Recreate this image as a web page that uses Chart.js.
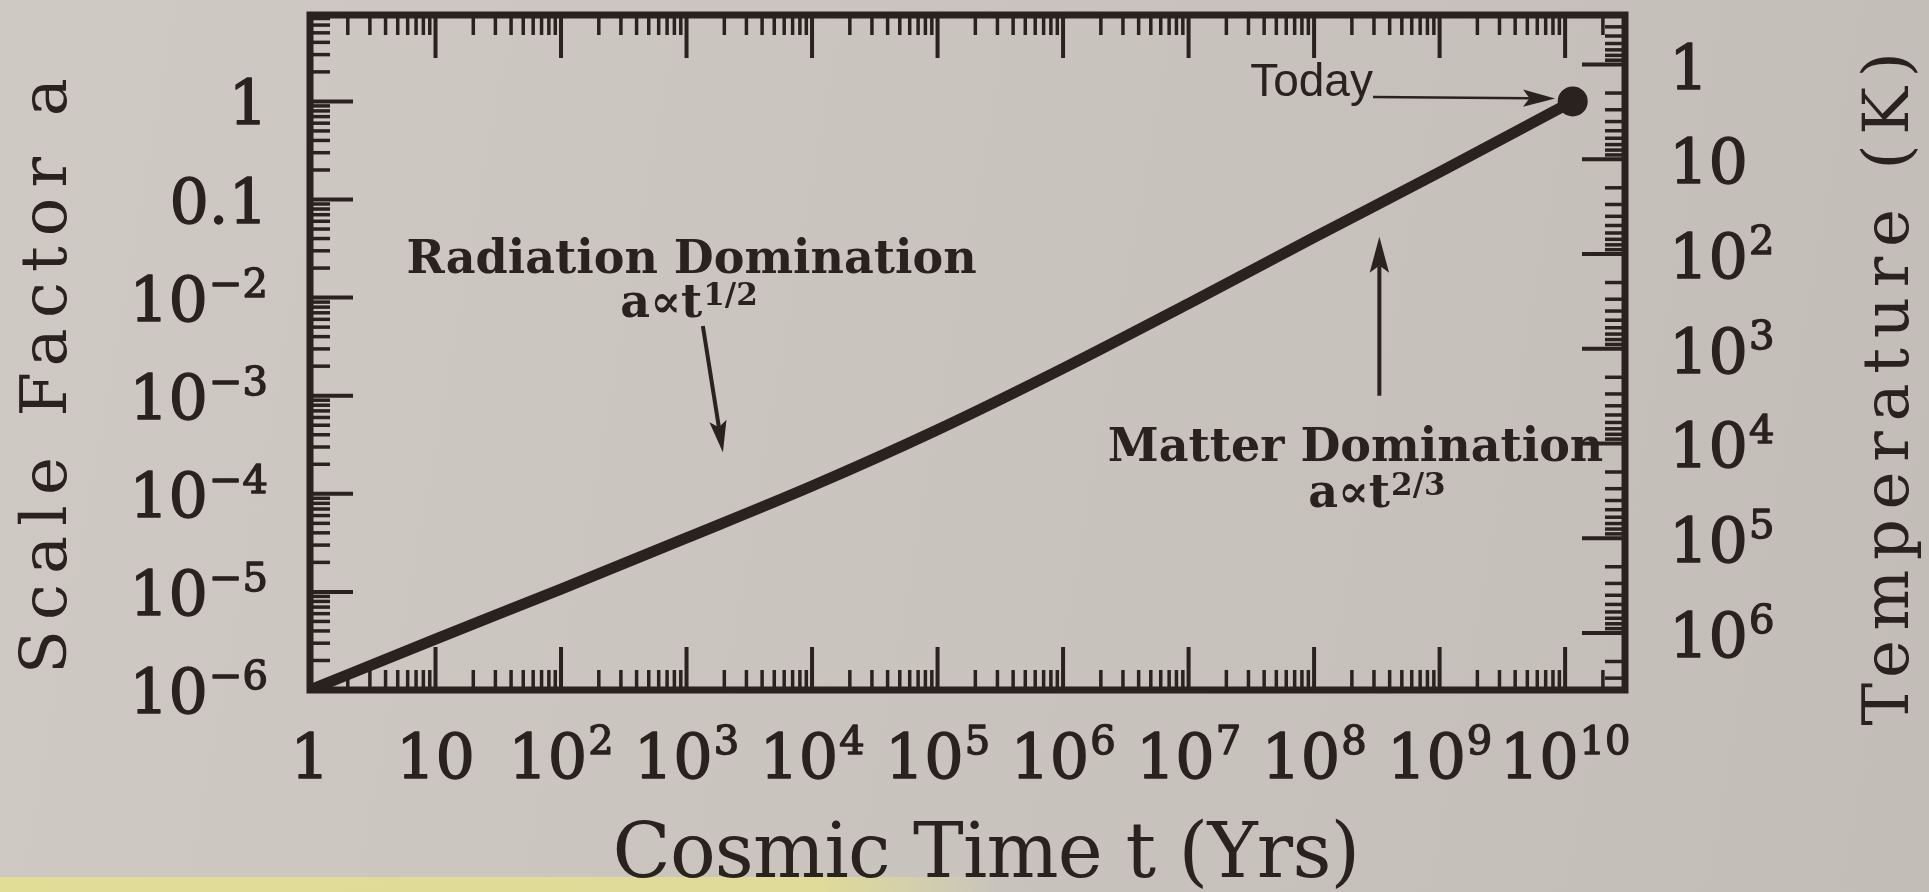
<!DOCTYPE html>
<html>
<head>
<meta charset="utf-8">
<title>Scale factor and cosmic time</title>
<script src="https://cdn.jsdelivr.net/npm/chart.js@4.4.1/dist/chart.umd.min.js"></script>
<style>
  html, body { margin: 0; padding: 0; }
  body {
    width: 1929px;
    height: 892px;
    overflow: hidden;
    background:
      linear-gradient(to right, rgba(226, 221, 148, 0.95) 0, rgba(226, 221, 148, 0.9) 820px, rgba(226, 221, 148, 0) 1000px) 0 877px / 100% 15px no-repeat,
      linear-gradient(100deg, #cecac3 0%, #c8c4bd 55%, #c2beb7 100%);
  }
  canvas { display: block; }
</style>
</head>
<body>
<canvas id="scaleFactorChart" width="1929" height="892"></canvas>
<script>
// cosmic time (years) and the scale factor a along the curve
const cosmicTime = [1, 10, 1e2, 1e3, 1e4, 1e5, 1e6, 1e7, 1e8, 1e9, 1e10, 1.15e10];
const scaleFactor = [1e-6, 3.3e-6, 1.07e-5, 3.55e-5, 1.2e-4, 4.5e-4, 1.9e-3, 8.7e-3, 4.1e-2, 0.19, 0.91, 1];

// present day
const todayTime = [1.15e10];
const todayScale = [1];

// axis ranges
const timeRange = [1, 3e10];
const scaleRange = [1e-6, 7.6];
const tempRange = [0.32, 4e6];

// labelled ticks ("^" starts the exponent)
const timeTicks = [1, 10, 1e2, 1e3, 1e4, 1e5, 1e6, 1e7, 1e8, 1e9, 1e10];
const timeTickLabels = ['1', '10', '10^2', '10^3', '10^4', '10^5', '10^6', '10^7', '10^8', '10^9', '10^10'];
const scaleTicks = [1, 0.1, 1e-2, 1e-3, 1e-4, 1e-5, 1e-6];
const scaleTickLabels = ['1', '0.1', '10^\u22122', '10^\u22123', '10^\u22124', '10^\u22125', '10^\u22126'];
const tempTicks = [1, 10, 1e2, 1e3, 1e4, 1e5, 1e6];
const tempTickLabels = ['1', '10', '10^2', '10^3', '10^4', '10^5', '10^6'];

const ink = '#29221f';
const serif = '"DejaVu Serif", serif';
const tickFont = '62px ' + serif;
const supFont = '40px ' + serif;
const noteFont = 'bold 46px ' + serif;
const noteSupFont = 'bold 31px ' + serif;

// text notes, anchored in data units (t, a) at the baseline centre
const notes = [
  { text: 'Radiation Domination', t: 10 ** 3.04, a: 10 ** -1.75 },
  { text: 'a\u221Dt^1/2', t: 10 ** 3.02, a: 10 ** -2.2 },
  { text: 'Matter Domination', t: 10 ** 8.33, a: 10 ** -3.67 },
  { text: 'a\u221Dt^2/3', t: 10 ** 8.5, a: 10 ** -4.13 }
];
const arrows = [
  { from: [10 ** 3.13, 10 ** -2.29], to: [10 ** 3.29, 10 ** -3.58], width: 4, head: 32 },
  { from: [10 ** 8.52, 10 ** -3.0], to: [10 ** 8.52, 10 ** -1.38], width: 4, head: 36 },
  { from: [10 ** 8.47, 10 ** 0.045], to: [10 ** 9.92, 10 ** 0.03], width: 2.5, head: 32 }
];
const todayNote = { text: 'Today', t: 10 ** 7.98, a: 10 ** 0.06 };

function logTicks(min, max) {
  const out = [];
  for (let e = Math.floor(Math.log10(min)); e <= Math.ceil(Math.log10(max)); e++) {
    for (let m = 1; m <= 9; m++) {
      const v = m * Math.pow(10, e);
      if (v >= min * 0.999 && v <= max * 1.001) out.push({ v, major: m === 1 });
    }
  }
  return out;
}

// text with an optional exponent after "^"; heavy adds a thin outline
function drawPower(ctx, label, x, y, align, baseFont, expFont, raise, heavy) {
  const parts = label.split('^');
  ctx.font = baseFont;
  const wb = ctx.measureText(parts[0]).width;
  let we = 0;
  if (parts[1]) {
    ctx.font = expFont;
    we = ctx.measureText(parts[1]).width + 1;
  }
  const w = wb + we;
  const x0 = align === 'center' ? x - w / 2 : align === 'right' ? x - w : x;
  ctx.textAlign = 'left';
  ctx.textBaseline = 'alphabetic';
  ctx.lineWidth = heavy || 0;
  const put = (s, px, py) => {
    ctx.fillText(s, px, py);
    if (heavy) ctx.strokeText(s, px, py);
  };
  ctx.font = baseFont;
  put(parts[0], x0, y);
  if (parts[1]) {
    ctx.font = expFont;
    put(parts[1], x0 + wb + 1, y - raise);
  }
}

// spread the letters so the text spans the given width
function spreadText(ctx, text, font, width) {
  ctx.font = font;
  ctx.letterSpacing = '0px';
  const w = ctx.measureText(text).width;
  ctx.letterSpacing = ((width - w) / text.length) + 'px';
}

function arrow(ctx, x1, y1, x2, y2, width, head) {
  const c = Math.cos(Math.atan2(y2 - y1, x2 - x1));
  const s = Math.sin(Math.atan2(y2 - y1, x2 - x1));
  ctx.lineWidth = width;
  ctx.beginPath();
  ctx.moveTo(x1, y1);
  ctx.lineTo(x2 - c * head * 0.8, y2 - s * head * 0.8);
  ctx.stroke();
  ctx.beginPath();
  ctx.moveTo(x2, y2);
  ctx.lineTo(x2 - head * c + head * 0.27 * s, y2 - head * s - head * 0.27 * c);
  ctx.lineTo(x2 - head * 0.8 * c, y2 - head * 0.8 * s);
  ctx.lineTo(x2 - head * c - head * 0.27 * s, y2 - head * s + head * 0.27 * c);
  ctx.closePath();
  ctx.fill();
}

// frame plus inward log ticks on all four sides, then all the text
const frameTicks = {
  id: 'frameTicks',
  beforeDatasetsDraw(chart) {
    const { ctx, chartArea: a, scales } = chart;
    const major = 43, minor = 20;
    ctx.save();
    ctx.strokeStyle = ink;
    ctx.lineCap = 'butt';
    logTicks(scales.x.min, scales.x.max).forEach(tk => {
      const px = scales.x.getPixelForValue(tk.v);
      const len = tk.major ? major : minor;
      ctx.lineWidth = tk.major ? 4 : 3.5;
      ctx.beginPath();
      ctx.moveTo(px, a.bottom); ctx.lineTo(px, a.bottom - len);
      ctx.moveTo(px, a.top); ctx.lineTo(px, a.top + len);
      ctx.stroke();
    });
    logTicks(scales.y.min, scales.y.max).forEach(tk => {
      const py = scales.y.getPixelForValue(tk.v);
      ctx.lineWidth = tk.major ? 4 : 3.5;
      ctx.beginPath();
      ctx.moveTo(a.left, py); ctx.lineTo(a.left + (tk.major ? major : minor), py);
      ctx.stroke();
    });
    logTicks(scales.temp.min, scales.temp.max).forEach(tk => {
      const py = scales.temp.getPixelForValue(tk.v);
      ctx.lineWidth = tk.major ? 4 : 3.5;
      ctx.beginPath();
      ctx.moveTo(a.right, py); ctx.lineTo(a.right - (tk.major ? major : minor), py);
      ctx.stroke();
    });
    ctx.lineWidth = 7;
    ctx.strokeRect(a.left, a.top, a.right - a.left, a.bottom - a.top);
    ctx.restore();
  },
  afterDraw(chart) {
    const { ctx, chartArea: a, scales } = chart;
    const x = scales.x, y = scales.y, temp = scales.temp;
    ctx.save();
    ctx.fillStyle = ink;
    ctx.strokeStyle = ink;
    ctx.lineJoin = 'round';

    timeTicks.forEach((v, i) => {
      drawPower(ctx, timeTickLabels[i], x.getPixelForValue(v), a.bottom + 88, 'center', tickFont, supFont, 24, 1.4);
    });
    scaleTicks.forEach((v, i) => {
      drawPower(ctx, scaleTickLabels[i], a.left - 42, y.getPixelForValue(v) + 23, 'right', tickFont, supFont, 24, 1.4);
    });
    tempTicks.forEach((v, i) => {
      drawPower(ctx, tempTickLabels[i], a.right + 44, temp.getPixelForValue(v) + 24, 'left', tickFont, supFont, 24, 1.4);
    });

    // axis titles
    ctx.textAlign = 'center';
    ctx.textBaseline = 'middle';
    ctx.save();
    spreadText(ctx, 'Scale Factor a', '64px ' + serif, 606);
    ctx.translate(49, 371);
    ctx.rotate(-Math.PI / 2);
    ctx.fillText('Scale Factor a', 0, 0);
    ctx.restore();
    ctx.save();
    spreadText(ctx, 'Temperature (K)', '64px ' + serif, 683);
    ctx.translate(1891, 384);
    ctx.rotate(-Math.PI / 2);
    ctx.fillText('Temperature (K)', 0, 0);
    ctx.restore();
    ctx.save();
    ctx.textBaseline = 'alphabetic';
    spreadText(ctx, 'Cosmic Time t (Yrs)', '76px ' + serif, 747);
    ctx.fillText('Cosmic Time t (Yrs)', 986, 877);
    ctx.restore();

    // notes and arrows
    notes.forEach(n => {
      drawPower(ctx, n.text, x.getPixelForValue(n.t), y.getPixelForValue(n.a), 'center', noteFont, noteSupFont, 12);
    });
    arrows.forEach(r => {
      arrow(ctx, x.getPixelForValue(r.from[0]), y.getPixelForValue(r.from[1]),
        x.getPixelForValue(r.to[0]), y.getPixelForValue(r.to[1]), r.width, r.head);
    });
    ctx.font = '46px "Liberation Sans", sans-serif';
    ctx.textAlign = 'center';
    ctx.textBaseline = 'alphabetic';
    ctx.fillText(todayNote.text, x.getPixelForValue(todayNote.t), y.getPixelForValue(todayNote.a));
    ctx.restore();
  }
};

new Chart(document.getElementById('scaleFactorChart'), {
  type: 'line',
  data: {
    datasets: [{
      label: 'Scale factor',
      data: cosmicTime.map((t, i) => ({ x: t, y: scaleFactor[i] })),
      borderColor: ink,
      borderWidth: 11,
      pointRadius: 0,
      cubicInterpolationMode: 'monotone',
      borderCapStyle: 'round'
    }, {
      type: 'scatter',
      label: 'Today',
      data: todayTime.map((t, i) => ({ x: t, y: todayScale[i] })),
      backgroundColor: ink,
      borderWidth: 0,
      pointRadius: 15
    }]
  },
  options: {
    responsive: false,
    animation: false,
    devicePixelRatio: 1,
    layout: { padding: { left: 310, right: 304, top: 11, bottom: 202 } },
    plugins: { legend: { display: false }, tooltip: { enabled: false } },
    scales: {
      x: { type: 'logarithmic', min: timeRange[0], max: timeRange[1], display: false },
      y: { type: 'logarithmic', min: scaleRange[0], max: scaleRange[1], display: false },
      temp: { type: 'logarithmic', position: 'right', reverse: true, min: tempRange[0], max: tempRange[1], display: false }
    }
  },
  plugins: [frameTicks]
});
</script>
</body>
</html>
